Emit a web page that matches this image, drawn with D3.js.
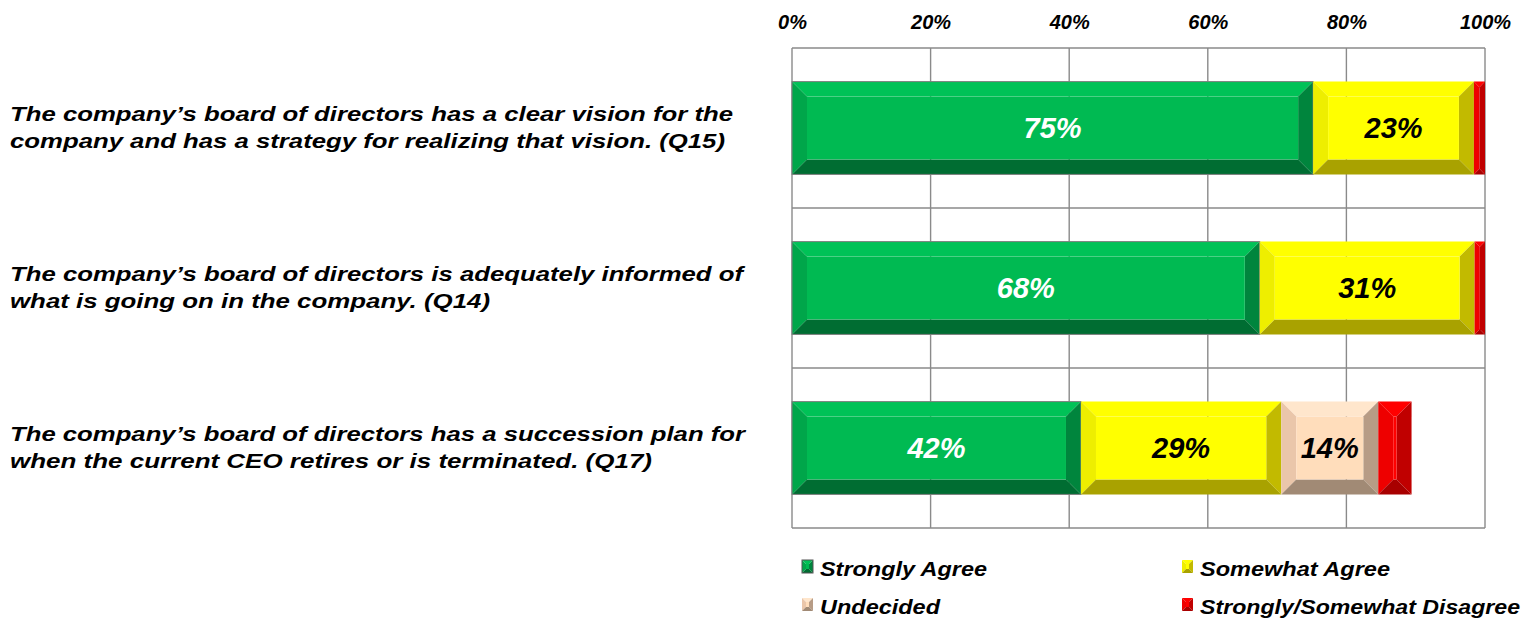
<!DOCTYPE html>
<html><head><meta charset="utf-8">
<script src="https://cdn.jsdelivr.net/npm/d3@7"></script>
<style>
body{margin:0;background:#fff;}
text{font-family:"Liberation Sans",Arial,sans-serif;font-weight:bold;font-style:italic;}
</style></head>
<body><svg id="c" width="1522" height="620"></svg>
<script>
const categories = ["Q15","Q14","Q17"];
const categoryLabels = [
  ["The company\u2019s board of directors has a clear vision for the","company and has a strategy for realizing that vision. (Q15)"],
  ["The company\u2019s board of directors is adequately informed of","what is going on in the company. (Q14)"],
  ["The company\u2019s board of directors has a succession plan for","when the current CEO retires or is terminated. (Q17)"]
];
const seriesNames = ["Strongly Agree","Somewhat Agree","Undecided","Strongly/Somewhat Disagree"];
const stronglyAgree = [75.2, 67.5, 41.7];
const somewhatAgree = [23.2, 31.0, 28.9];
const undecided = [0, 0, 14.0];
const disagree = [1.6, 1.5, 4.8];
const tickValues = [0,20,40,60,80,100];

// layout: rendered widths of the text lines
const labelLineWidths = [[723,715],[733,480],[735,642]];
const legendTextWidths = [167,190,120,320];

const palettes = [
  {face:"#00BA52", top:"#00C257", left:"#00A64A", right:"#00853D", bottom:"#006D32", text:"#fff", stroke:"#7f7f7f"},
  {face:"#FFFF00", top:"#FFFF00", left:"#EEEE00", right:"#C2BA00", bottom:"#A9A200", text:"#000", stroke:null},
  {face:"#FFDDBB", top:"#FFE6CC", left:"#EAC6AA", right:"#B79C86", bottom:"#A18A75", text:"#000", stroke:null},
  {face:"#FF0000", top:"#FF0000", left:"#EE0000", right:"#C00000", bottom:"#A80000", text:"#000", stroke:null}
];

const svg = d3.select("#c");
const x = d3.scaleLinear().domain([0,100]).range([792,1485]);
const y = d3.scaleBand().domain(categories).range([48,528]).padding(0);

// grid
const g = svg.append("g");
g.selectAll(".vg").data(tickValues).join("line")
  .attr("x1",d=>x(d)).attr("x2",d=>x(d)).attr("y1",48).attr("y2",528)
  .attr("stroke","#8a8a8a").attr("stroke-width",1.4);
const hb = [48, ...categories.map(c=>y(c)+y.bandwidth())];
g.selectAll(".hg").data(hb).join("line")
  .attr("x1",x(0)).attr("x2",x(100)).attr("y1",d=>d).attr("y2",d=>d)
  .attr("stroke","#8a8a8a").attr("stroke-width",1.4);

// top axis
const ax = svg.append("g").attr("transform","translate(0,29)")
  .call(d3.axisTop(x).tickValues(tickValues).tickFormat(d=>d+"%").tickSize(0).tickPadding(0));
ax.select(".domain").remove();
ax.selectAll("text").attr("font-size",20).attr("fill","#000").attr("dy","0")
  .style("font-family","'Liberation Sans',Arial,sans-serif").style("font-weight","bold").style("font-style","italic");

// bevel segment drawer
function bevel(sel, x0, y0, w, h, p, bsize){
  const b = Math.min(bsize, w/2, h/2);
  const x1 = x0+w, y1 = y0+h;
  const poly = (pts, fill)=> sel.append("polygon").attr("points",pts.map(q=>q.join(",")).join(" ")).attr("fill",fill);
  poly([[x0,y0],[x1,y0],[x1-b,y0+b],[x0+b,y0+b]], p.top);
  poly([[x0,y0],[x0+b,y0+b],[x0+b,y1-b],[x0,y1]], p.left);
  poly([[x1,y0],[x1,y1],[x1-b,y1-b],[x1-b,y0+b]], p.right);
  poly([[x0,y1],[x0+b,y1-b],[x1-b,y1-b],[x1,y1]], p.bottom);
  if(w-2*b>0 && h-2*b>0) sel.append("rect").attr("x",x0+b).attr("y",y0+b).attr("width",w-2*b).attr("height",h-2*b).attr("fill",p.face);
  if(p.stroke) sel.append("rect").attr("x",x0).attr("y",y0).attr("width",w).attr("height",h).attr("fill","none").attr("stroke",p.stroke).attr("stroke-width",1);
}

const series = [stronglyAgree, somewhatAgree, undecided, disagree];
const barH = y.bandwidth()*0.58;
categories.forEach((c,i)=>{
  let cum = 0;
  const by = y(c) + (y.bandwidth()-barH)/2;
  series.forEach((s,k)=>{
    const v = s[i];
    if(v<=0){return;}
    const x0 = x(cum), w = x(cum+v)-x(cum);
    const gg = svg.append("g");
    bevel(gg, x0, by, w, barH, palettes[k], 15);
    if(v>=10){
      svg.append("text").attr("x",x0+w/2).attr("y",by+barH/2).attr("dy","0.36em")
        .attr("text-anchor","middle").attr("font-size",29).attr("fill",palettes[k].text)
        .text(Math.round(v)+"%");
    }
    cum += v;
  });
  // category label
  categoryLabels[i].forEach((ln,j)=>{
    svg.append("text").attr("x",10).attr("y",y(c)+y.bandwidth()/2-7+j*27)
      .attr("font-size",21).attr("fill","#000")
      .attr("textLength",labelLineWidths[i][j]).attr("lengthAdjust","spacingAndGlyphs")
      .text(ln);
  });
});

// legend
const legendPos = [[802,568],[1182,568],[802,606],[1182,606]];
seriesNames.forEach((n,k)=>{
  const [lx,ly] = legendPos[k];
  const p = palettes[k];
  const lg = svg.append("g");
  bevel(lg, lx, ly-8, 11, 13, Object.assign({},p,{stroke:k===0?"#555":null}), 4);
  svg.append("text").attr("x",lx+18).attr("y",ly).attr("dy","0.36em").attr("font-size",21)
    .attr("textLength",legendTextWidths[k]).attr("lengthAdjust","spacingAndGlyphs")
    .attr("fill","#000").text(n);
});
</script></body></html>
